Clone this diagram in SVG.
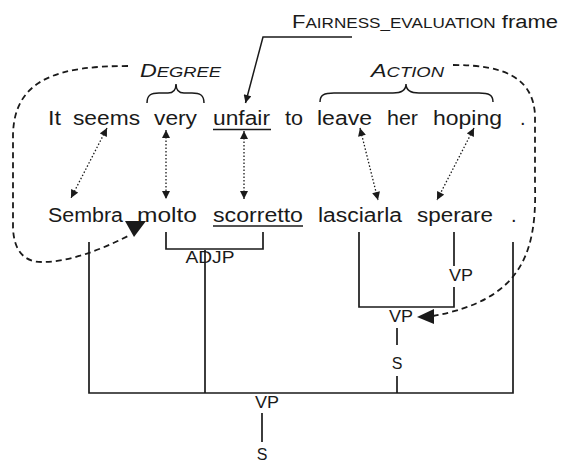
<svg xmlns="http://www.w3.org/2000/svg" width="562" height="463" viewBox="0 0 562 463">
<style>
text{font-family:"Liberation Sans",Arial,sans-serif;fill:#1a1a1a}
.w{font-size:20px}
.lab{font-size:16px;text-anchor:middle}
.tree{fill:none;stroke:#1a1a1a;stroke-width:1.7}
.dot{fill:none;stroke:#1a1a1a;stroke-width:1.3;stroke-dasharray:1.5 2}
.dash{fill:none;stroke:#1a1a1a;stroke-width:1.8;stroke-dasharray:6 4}
.brace{fill:none;stroke:#1a1a1a;stroke-width:1.5}
.ul{stroke:#1a1a1a;stroke-width:1.3}
</style>
<defs>
<marker id="ah" viewBox="0 0 10 10" refX="10" refY="5" markerWidth="9" markerHeight="8" markerUnits="userSpaceOnUse" orient="auto-start-reverse">
<path d="M0,0 L10,5 L0,10 Z" fill="#1a1a1a"/>
</marker>
</defs>
<rect width="562" height="463" fill="#fff"/>

<g id="frame-label">
<text x="292" y="28" textLength="266" lengthAdjust="spacingAndGlyphs"><tspan font-size="18">F</tspan><tspan font-size="14">AIRNESS_EVALUATION</tspan><tspan font-size="18"> frame</tspan></text>
</g>
<g id="degree-label">
<text x="140" y="77" font-style="italic" textLength="81" lengthAdjust="spacingAndGlyphs"><tspan font-size="19">D</tspan><tspan font-size="15">EGREE</tspan></text>
</g>
<g id="action-label">
<text x="371" y="77" font-style="italic" textLength="73" lengthAdjust="spacingAndGlyphs"><tspan font-size="19">A</tspan><tspan font-size="15">CTION</tspan></text>
</g>

<g id="english">
<text class="w" x="48" y="125" textLength="13" lengthAdjust="spacingAndGlyphs">It</text>
<text class="w" x="73" y="125" textLength="67" lengthAdjust="spacingAndGlyphs">seems</text>
<text class="w" x="154" y="125" textLength="43" lengthAdjust="spacingAndGlyphs">very</text>
<text class="w" x="213" y="125" textLength="57" lengthAdjust="spacingAndGlyphs">unfair</text>
<text class="w" x="285" y="125" textLength="18" lengthAdjust="spacingAndGlyphs">to</text>
<text class="w" x="317" y="125" textLength="55" lengthAdjust="spacingAndGlyphs">leave</text>
<text class="w" x="387" y="125" textLength="31" lengthAdjust="spacingAndGlyphs">her</text>
<text class="w" x="433" y="125" textLength="69" lengthAdjust="spacingAndGlyphs">hoping</text>
<text class="w" x="520" y="125">.</text>
<line class="ul" x1="213" y1="129.5" x2="271" y2="129.5"/>
</g>

<g id="italian">
<text class="w" x="48" y="222" textLength="75" lengthAdjust="spacingAndGlyphs">Sembra</text>
<text class="w" x="137" y="222" textLength="60" lengthAdjust="spacingAndGlyphs">molto</text>
<text class="w" x="213" y="222" textLength="90" lengthAdjust="spacingAndGlyphs">scorretto</text>
<text class="w" x="318" y="222" textLength="84" lengthAdjust="spacingAndGlyphs">lasciarla</text>
<text class="w" x="417" y="222" textLength="76" lengthAdjust="spacingAndGlyphs">sperare</text>
<text class="w" x="511" y="222">.</text>
<line class="ul" x1="213" y1="226" x2="303" y2="226"/>
</g>

<g id="tree-labels">
<text class="lab" x="210" y="263" textLength="49" lengthAdjust="spacingAndGlyphs">ADJP</text>
<text class="lab" x="461" y="281" textLength="24" lengthAdjust="spacingAndGlyphs">VP</text>
<text class="lab" x="401" y="322" textLength="24" lengthAdjust="spacingAndGlyphs">VP</text>
<text class="lab" x="397" y="369">S</text>
<text class="lab" x="267" y="408" textLength="24" lengthAdjust="spacingAndGlyphs">VP</text>
<text class="lab" x="262" y="460">S</text>
</g>

<g id="connectors">
<path class="brace" d="M147,103 C147,95 151,93 159,93 L168,93 C174,93 176,90 176,84 C176,90 178,93 184,93 L192,93 C200,93 204,95 204,103"/>
<path class="brace" d="M320,102 C320,95 324,93 334,93 L393,93 C402,93 406,90 406,84 C406,90 410,93 419,93 L479,93 C489,93 493,95 493,102"/>
<polyline fill="none" stroke="#1a1a1a" stroke-width="1.5" points="352,37 263,37 245.5,103" marker-end="url(#ah)"/>

<line class="dot" x1="107" y1="128" x2="71" y2="198" marker-start="url(#ah)" marker-end="url(#ah)"/>
<line class="dot" x1="166" y1="130" x2="166" y2="199" marker-start="url(#ah)" marker-end="url(#ah)"/>
<line class="dot" x1="244" y1="131" x2="244" y2="199" marker-start="url(#ah)" marker-end="url(#ah)"/>
<line class="dot" x1="360" y1="128" x2="378" y2="200" marker-start="url(#ah)" marker-end="url(#ah)"/>
<line class="dot" x1="474" y1="128" x2="437" y2="200" marker-start="url(#ah)" marker-end="url(#ah)"/>

<path class="dash" d="M128,66 C60,66 14,78 13,135 L13,228 C14,252 25,262 42,262 C70,262 100,250 128,236"/>
<polygon points="125,221 146,221 134,237" fill="#1a1a1a"/>
<path class="dash" d="M453,65 C505,65 533,78 535,115 L535,185 C537,255 520,300 433,316"/>
<polygon points="417,317 434,309 434,324" fill="#1a1a1a"/>

<path class="tree" d="M166,232 V249 H263 V232"/>
<path class="tree" d="M205,250 V393"/>
<path class="tree" d="M359,232 V307 H454 V287"/>
<path class="tree" d="M454,232 V266"/>
<path class="tree" d="M397,328 V345"/>
<path class="tree" d="M397,376 V393"/>
<path class="tree" d="M89,242 V393 H513 V242"/>
<path class="tree" d="M262,413 V442"/>
</g>
</svg>
